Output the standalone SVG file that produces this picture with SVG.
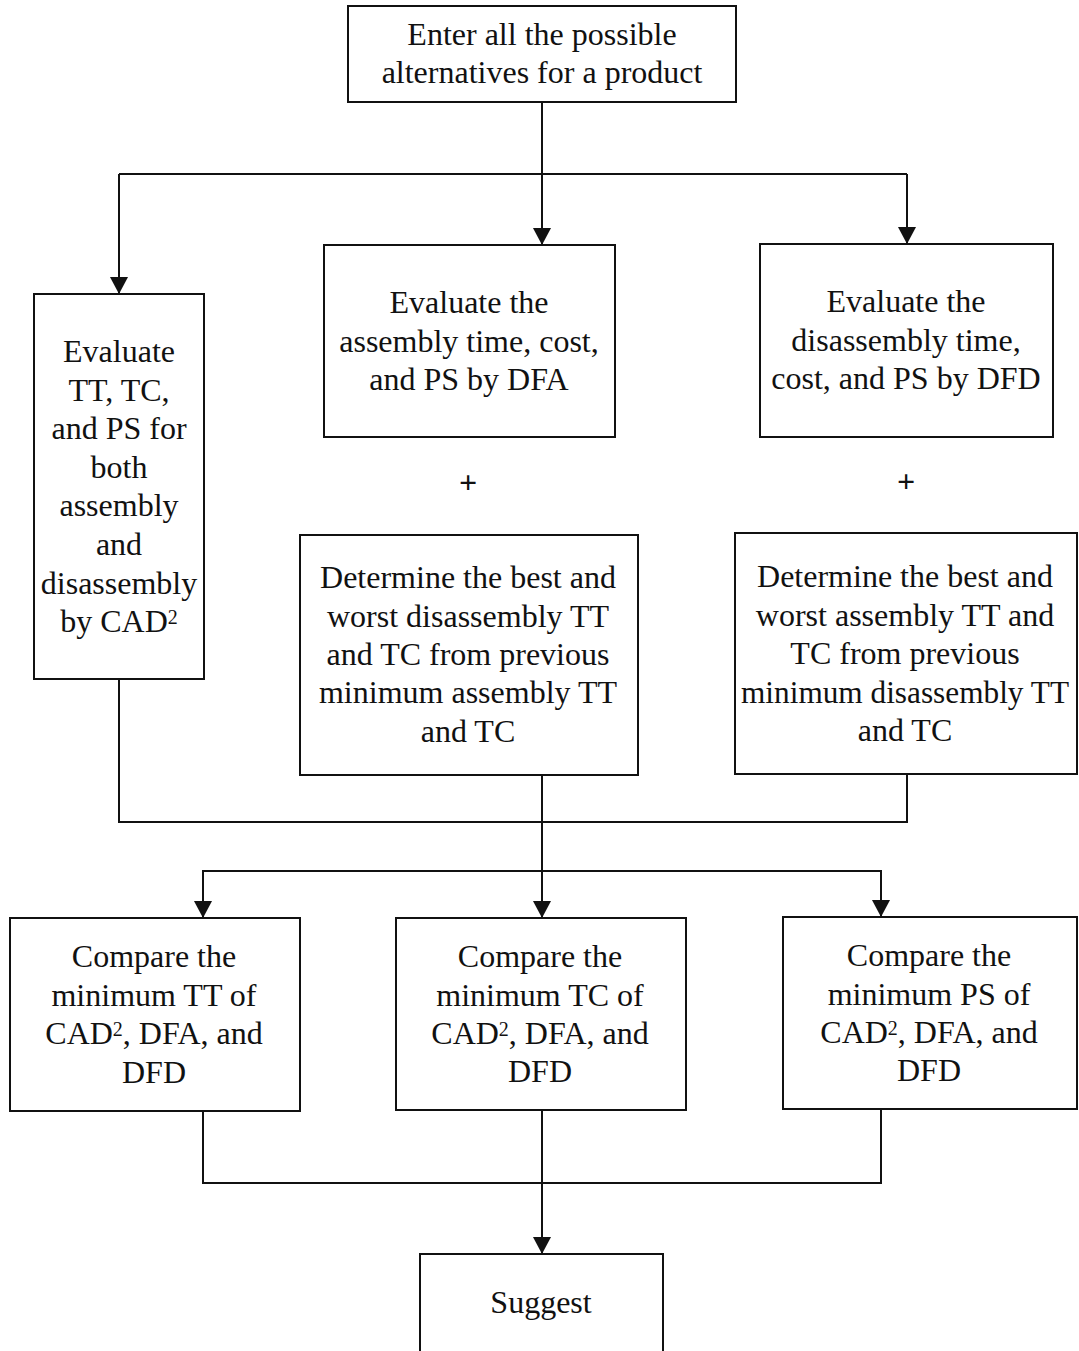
<svg xmlns="http://www.w3.org/2000/svg" width="1079" height="1351" viewBox="0 0 1079 1351">
<style>
.box{fill:#fff;stroke:#111;stroke-width:2}
.ln{fill:none;stroke:#111;stroke-width:2}
text{font-family:"Liberation Serif","Times New Roman",serif;font-size:32px;fill:#111;text-anchor:middle}
.plus{font-size:32px;font-weight:bold}
</style>
<defs>
<marker id="ah" markerWidth="17" markerHeight="18" refX="17" refY="9" orient="auto" markerUnits="userSpaceOnUse" viewBox="0 0 17 18">
<path d="M0,0 L17,9 L0,18 Z" fill="#111"/>
</marker>
</defs>
<rect width="1079" height="1351" fill="#fff"/>
<g id="connectors">
<path class="ln" d="M542,102 V174"/>
<path class="ln" d="M119,174 H907"/>
<path class="ln" d="M119,174 V294" marker-end="url(#ah)"/>
<path class="ln" d="M542,174 V245" marker-end="url(#ah)"/>
<path class="ln" d="M907,174 V244" marker-end="url(#ah)"/>
<path class="ln" d="M119,679 V822 H907 V774"/>
<path class="ln" d="M542,775 V918" marker-end="url(#ah)"/>
<path class="ln" d="M203,918 V871 H881 V917"/>
<path class="ln" d="M203,890 V918" marker-end="url(#ah)"/>
<path class="ln" d="M881,890 V917" marker-end="url(#ah)"/>
<path class="ln" d="M203,1111 V1183 H881 V1109"/>
<path class="ln" d="M542,1110 V1254" marker-end="url(#ah)"/>
</g>
<g id="n-enter">
<rect class="box" x="348" y="6" width="388" height="96"/>
<text x="542" y="45">Enter all the possible</text>
<text x="542" y="83">alternatives for a product</text>
</g>
<g id="n-cad2">
<rect class="box" x="34" y="294" width="170" height="385"/>
<text x="119" y="362">Evaluate</text>
<text x="119" y="401">TT, TC,</text>
<text x="119" y="439">and PS for</text>
<text x="119" y="478">both</text>
<text x="119" y="516">assembly</text>
<text x="119" y="555">and</text>
<text x="119" y="594">disassembly</text>
<text x="119" y="632">by CAD<tspan font-size="20" dy="-8">2</tspan></text>
</g>
<g id="n-dfa">
<rect class="box" x="324" y="245" width="291" height="192"/>
<text x="469" y="313">Evaluate the</text>
<text x="469" y="352">assembly time, cost,</text>
<text x="469" y="390">and PS by DFA</text>
</g>
<g id="n-dfd">
<rect class="box" x="760" y="244" width="293" height="193"/>
<text x="906" y="312">Evaluate the</text>
<text x="906" y="351">disassembly time,</text>
<text x="906" y="389">cost, and PS by DFD</text>
</g>
<g id="plus1"><text class="plus" x="468" y="493">+</text></g>
<g id="plus2"><text class="plus" x="906" y="492">+</text></g>
<g id="n-best-dis">
<rect class="box" x="300" y="535" width="338" height="240"/>
<text x="468" y="588">Determine the best and</text>
<text x="468" y="627">worst disassembly TT</text>
<text x="468" y="665">and TC from previous</text>
<text x="468" y="703">minimum assembly TT</text>
<text x="468" y="742">and TC</text>
</g>
<g id="n-best-as">
<rect class="box" x="735" y="533" width="342" height="241"/>
<text x="905" y="587">Determine the best and</text>
<text x="905" y="626">worst assembly TT and</text>
<text x="905" y="664">TC from previous</text>
<text x="905" y="703" textLength="328" lengthAdjust="spacingAndGlyphs">minimum disassembly TT</text>
<text x="905" y="741">and TC</text>
</g>
<g id="n-cmp-tt">
<rect class="box" x="10" y="918" width="290" height="193"/>
<text x="154" y="967">Compare the</text>
<text x="154" y="1006">minimum TT of</text>
<text x="154" y="1044">CAD<tspan font-size="20" dy="-8">2</tspan><tspan dy="8">, DFA, and</tspan></text>
<text x="154" y="1083">DFD</text>
</g>
<g id="n-cmp-tc">
<rect class="box" x="396" y="918" width="290" height="192"/>
<text x="540" y="967">Compare the</text>
<text x="540" y="1006">minimum TC of</text>
<text x="540" y="1044">CAD<tspan font-size="20" dy="-8">2</tspan><tspan dy="8">, DFA, and</tspan></text>
<text x="540" y="1082">DFD</text>
</g>
<g id="n-cmp-ps">
<rect class="box" x="783" y="917" width="294" height="192"/>
<text x="929" y="966">Compare the</text>
<text x="929" y="1005">minimum PS of</text>
<text x="929" y="1043">CAD<tspan font-size="20" dy="-8">2</tspan><tspan dy="8">, DFA, and</tspan></text>
<text x="929" y="1081">DFD</text>
</g>
<g id="n-suggest">
<rect class="box" x="420" y="1254" width="243" height="100"/>
<text x="541" y="1313">Suggest</text>
</g>
</svg>
